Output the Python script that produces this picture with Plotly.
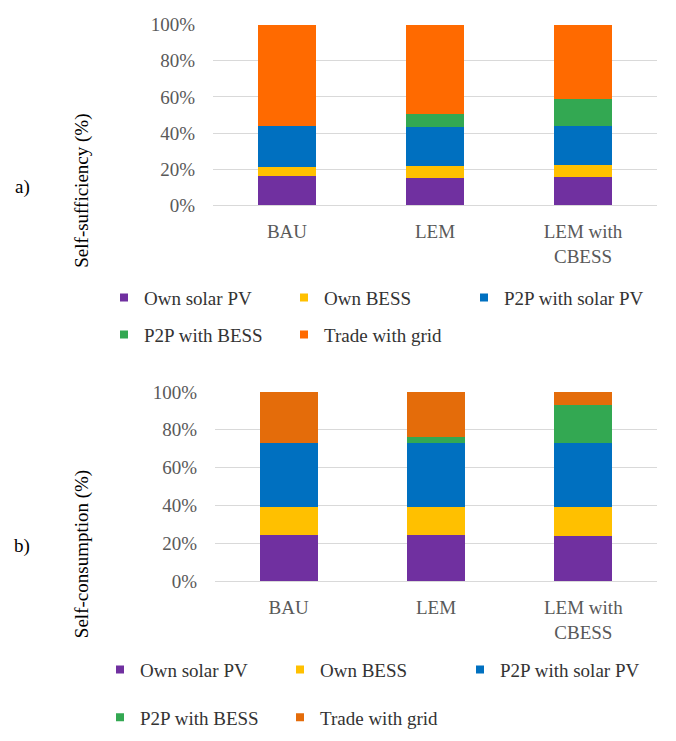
import plotly.graph_objects as go

categories = ["BAU", "LEM", "LEM with<br>CBESS"]
series_names = ["Own solar PV", "Own BESS", "P2P with solar PV", "P2P with BESS", "Trade with grid"]
tick_vals = [0, 20, 40, 60, 80, 100]
tick_text = ["0%", "20%", "40%", "60%", "80%", "100%"]

# a) Self-sufficiency (%)
ss_own_pv = [16, 15, 15.5]
ss_own_bess = [5, 6.5, 7]
ss_p2p_pv = [23, 22, 21.5]
ss_p2p_bess = [0, 7, 15]
ss_grid = [56, 49.5, 41]

# b) Self-consumption (%)
sc_own_pv = [24.5, 24.5, 24]
sc_own_bess = [14.5, 14.5, 15]
sc_p2p_pv = [34, 34, 34]
sc_p2p_bess = [0, 3, 20]
sc_grid = [27, 24, 7]

colors_top = ["#7030A0", "#FFC000", "#0070C0", "#33A852", "#FF6A00"]
colors_bot = ["#7030A0", "#FFC000", "#0070C0", "#33A852", "#E46C0A"]

W, H = 676, 741
FONT = "Liberation Serif"

fig = go.Figure()

top_series = [ss_own_pv, ss_own_bess, ss_p2p_pv, ss_p2p_bess, ss_grid]
bot_series = [sc_own_pv, sc_own_bess, sc_p2p_pv, sc_p2p_bess, sc_grid]

for i, (name, vals) in enumerate(zip(series_names, top_series)):
    fig.add_trace(go.Bar(
        x=categories, y=vals, name=name, marker_color=colors_top[i],
        marker_line_width=0, xaxis="x", yaxis="y", showlegend=False,
    ))
    fig.add_trace(go.Scatter(
        x=[None], y=[None], name=name, mode="markers",
        marker=dict(symbol="square", size=8, color=colors_top[i]),
        xaxis="x", yaxis="y", legend="legend" if i < 3 else "legend2",
    ))
for i, (name, vals) in enumerate(zip(series_names, bot_series)):
    fig.add_trace(go.Bar(
        x=categories, y=vals, name=name, marker_color=colors_bot[i],
        marker_line_width=0, xaxis="x2", yaxis="y2", showlegend=False,
    ))
    fig.add_trace(go.Scatter(
        x=[None], y=[None], name=name, mode="markers",
        marker=dict(symbol="square", size=8, color=colors_bot[i]),
        xaxis="x2", yaxis="y2", legend="legend3" if i < 3 else "legend4",
    ))

def py(px):
    return (H - px) / H

def pxx(px):
    return px / W

tickfont = dict(family=FONT, size=19, color="#595959")
legfont = dict(family=FONT, size=19, color="#333333")

yaxis_common = dict(
    range=[0, 100], tickvals=tick_vals, ticktext=tick_text,
    showgrid=True, gridcolor="#D9D9D9", gridwidth=1,
    zeroline=True, zerolinecolor="#D9D9D9", zerolinewidth=1,
    showline=False, tickfont=tickfont, ticklabelstandoff=17, fixedrange=True,
)
xaxis_common = dict(
    showline=False, showgrid=False, tickfont=tickfont, ticklabelstandoff=13,
    fixedrange=True,
)

leg_common = dict(orientation="h", xanchor="left", yanchor="middle",
                  font=legfont, entrywidth=135, entrywidthmode="pixels",
                  bgcolor="rgba(0,0,0,0)", itemclick=False, itemdoubleclick=False,
                  traceorder="normal")

fig.update_layout(
    width=W, height=H,
    margin=dict(l=0, r=0, t=0, b=0),
    paper_bgcolor="white", plot_bgcolor="white",
    barmode="stack", bargap=0.608,
    font=dict(family=FONT),
    showlegend=True,
    xaxis=dict(domain=[pxx(213), pxx(657)], anchor="y", **xaxis_common),
    yaxis=dict(domain=[py(201), py(15)], anchor="x", **yaxis_common),
    xaxis2=dict(domain=[pxx(215), pxx(657)], anchor="y2", **xaxis_common),
    yaxis2=dict(domain=[py(588), py(393)], anchor="x2", **yaxis_common),
    legend=dict(x=pxx(104), y=py(296), **leg_common),
    legend2=dict(x=pxx(104), y=py(334), **leg_common),
    legend3=dict(x=pxx(100), y=py(679), **leg_common),
    legend4=dict(x=pxx(100), y=py(728), **leg_common),
    annotations=[
        dict(text="Self-sufficiency (%)", x=pxx(82), y=py(186), xref="paper", yref="paper",
             textangle=-90, showarrow=False, font=dict(family=FONT, size=19, color="black"),
             xanchor="center", yanchor="middle"),
        dict(text="Self-consumption (%)", x=pxx(82), y=py(560), xref="paper", yref="paper",
             textangle=-90, showarrow=False, font=dict(family=FONT, size=19, color="black"),
             xanchor="center", yanchor="middle"),
        dict(text="a)", x=pxx(22), y=py(182), xref="paper", yref="paper",
             showarrow=False, font=dict(family=FONT, size=19, color="black"),
             xanchor="center", yanchor="middle"),
        dict(text="b)", x=pxx(22), y=py(552), xref="paper", yref="paper",
             showarrow=False, font=dict(family=FONT, size=19, color="black"),
             xanchor="center", yanchor="middle"),
    ],
)

fig.write_html("out.html", config={"displayModeBar": False},
               post_script="document.body.style.margin='0';")
